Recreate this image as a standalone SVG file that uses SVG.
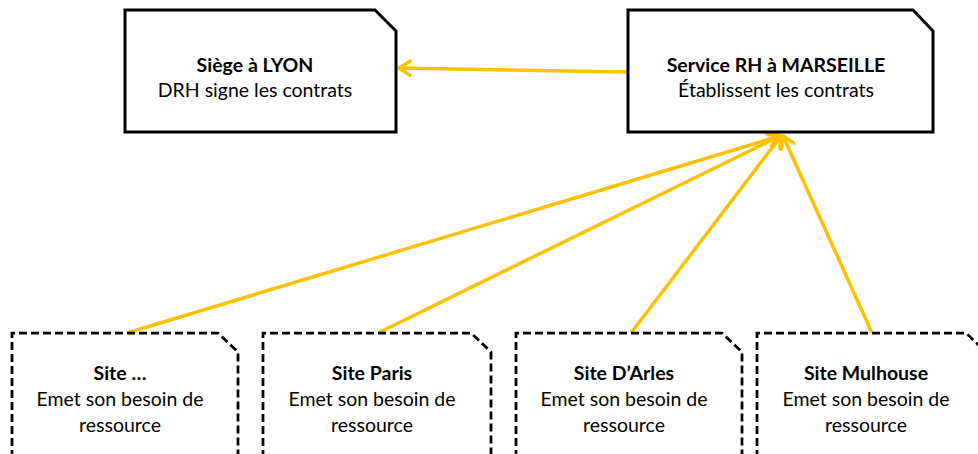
<svg xmlns="http://www.w3.org/2000/svg" width="978" height="454" viewBox="0 0 978 454">
  <style>
    .solid { fill: #ffffff; stroke: #000000; stroke-width: 3; stroke-linejoin: miter; }
    .dashed { fill: #ffffff; stroke: #000000; stroke-width: 2.75; stroke-dasharray: 8 4; }
    .title { font-family: Lato, "Liberation Sans", sans-serif; font-weight: bold; font-size: 19.5px; fill: #000000; text-anchor: middle; }
    .body { font-family: Lato, "Liberation Sans", sans-serif; font-size: 19.5px; fill: #000000; text-anchor: middle; }
    .link { stroke: #FFC000; stroke-width: 3.5; fill: none; marker-end: url(#arrow); }
  </style>
  <defs>
    <marker id="arrow" markerUnits="userSpaceOnUse" viewBox="-14 -9 16 18" refX="0" refY="0" markerWidth="16" markerHeight="18" orient="auto">
      <path d="M -11 -7 L 0 0 L -11 7" fill="none" stroke="#FFC000" stroke-width="3.5" stroke-linecap="round" stroke-linejoin="round"/>
    </marker>
  </defs>
  <rect width="978" height="454" fill="#ffffff"/>

  <g id="connectors">
    <line class="link" x1="628" y1="72" x2="399" y2="68"/>
    <line class="link" x1="127" y1="333" x2="780" y2="136"/>
    <line class="link" x1="378" y1="333" x2="780" y2="136"/>
    <line class="link" x1="631" y1="333" x2="781" y2="136"/>
    <line class="link" x1="872" y1="333" x2="783" y2="136"/>
  </g>

  <g id="siege-lyon">
    <path class="solid" d="M125,10 H375 L396,31 V132 H125 Z"/>
    <text class="title" x="255" y="72">Siège à LYON</text>
    <text class="body" x="255" y="97">DRH signe les contrats</text>
  </g>

  <g id="service-rh-marseille">
    <path class="solid" d="M628,10 H913 L933,31 V132 H628 Z"/>
    <text class="title" x="776" y="72">Service RH à MARSEILLE</text>
    <text class="body" x="776" y="97">Établissent les contrats</text>
  </g>

  <g id="site-autre">
    <path class="dashed" d="M12,470 V333 H218 L238,352 V470"/>
    <text class="title" x="120" y="380">Site …</text>
    <text class="body" x="120" y="406">Emet son besoin de</text>
    <text class="body" x="120" y="432">ressource</text>
  </g>

  <g id="site-paris">
    <path class="dashed" d="M263,470 V333 H471 L491,352 V470"/>
    <text class="title" x="372" y="380">Site Paris</text>
    <text class="body" x="372" y="406">Emet son besoin de</text>
    <text class="body" x="372" y="432">ressource</text>
  </g>

  <g id="site-arles">
    <path class="dashed" d="M516,470 V333 H722 L742,352 V470"/>
    <text class="title" x="624" y="380">Site D’Arles</text>
    <text class="body" x="624" y="406">Emet son besoin de</text>
    <text class="body" x="624" y="432">ressource</text>
  </g>

  <g id="site-mulhouse">
    <path class="dashed" d="M757,470 V333 H966 L986,352 V470"/>
    <text class="title" x="866" y="380">Site Mulhouse</text>
    <text class="body" x="866" y="406">Emet son besoin de</text>
    <text class="body" x="866" y="432">ressource</text>
  </g>
</svg>
